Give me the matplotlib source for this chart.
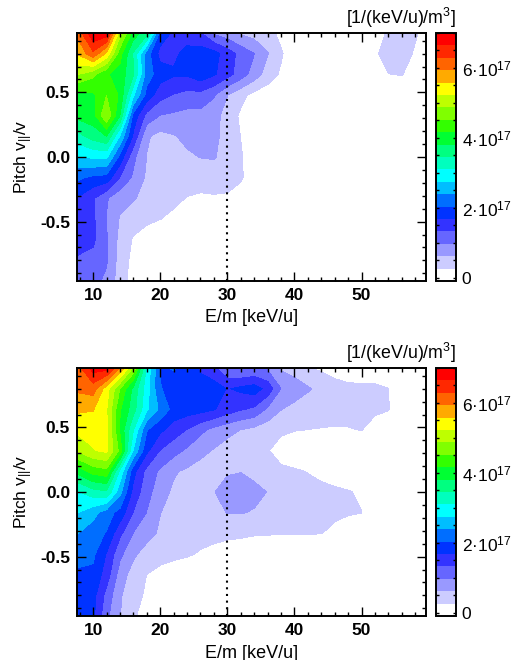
"""Pitch/energy distributions, two panels with a shared level scale."""
import numpy as np
import matplotlib
matplotlib.use("Agg")
import matplotlib.pyplot as plt
from matplotlib.ticker import FixedLocator, MultipleLocator

plt.rcParams["font.family"] = ["Liberation Sans", "DejaVu Sans"]
plt.rcParams["mathtext.fontset"] = "custom"
plt.rcParams["mathtext.rm"] = "Liberation Sans"
plt.rcParams["mathtext.default"] = "rm"

energy = [7.6, 10, 12, 14, 16, 18, 20, 22, 24, 26, 28, 30, 32, 34, 36, 38, 40, 42, 44, 46, 48, 50, 52, 54, 56, 58, 60]
pitch = [0.96, 0.8, 0.64, 0.48, 0.32, 0.16, 0.0, -0.16, -0.32, -0.48, -0.64, -0.8, -0.96]

# values in units of 1e17, one row per pitch
f_top = [
    [6.0, 6.95, 6.9, 5.0, 4.0, 3.6, 1.9, 1.6, 1.5, 1.35, 0.9, 0.75, 0.55, 0.45, 0.4, 0.15, 0.05, 0, 0, 0, 0, 0, 0.1, 0.3, 0.4, 0.3, 0.1],
    [5.6, 6.2, 5.5, 4.3, 3.4, 2.2, 1.55, 1.6, 1.78, 1.85, 1.8, 1.5, 1.2, 0.97, 0.63, 0.3, 0, 0, 0, 0, 0, 0, 0.2, 0.4, 0.45, 0.2, 0],
    [4.9, 4.6, 4.2, 4.0, 3.5, 2.2, 1.85, 1.72, 1.72, 1.9, 1.72, 1.45, 1.15, 0.8, 0.45, 0.2, 0, 0, 0, 0, 0, 0, 0.1, 0.25, 0.27, 0.1, 0],
    [4.0, 4.1, 4.5, 4.1, 2.8, 1.9, 1.45, 1.3, 1.2, 1.2, 1.0, 0.62, 0.35, 0.15, 0.05, 0, 0, 0, 0, 0, 0, 0, 0, 0, 0, 0, 0],
    [3.9, 4.0, 4.85, 3.8, 1.9, 1.2, 0.95, 0.9, 0.85, 0.85, 0.75, 0.45, 0.2, 0.05, 0, 0, 0, 0, 0, 0, 0, 0, 0, 0, 0, 0, 0],
    [3.3, 3.6, 3.8, 2.7, 1.6, 0.65, 0.5, 0.58, 0.7, 0.72, 0.72, 0.45, 0.25, 0.1, 0, 0, 0, 0, 0, 0, 0, 0, 0, 0, 0, 0, 0],
    [2.7, 2.8, 2.8, 1.9, 1.05, 0.6, 0.45, 0.45, 0.55, 0.62, 0.64, 0.45, 0.28, 0.1, 0, 0, 0, 0, 0, 0, 0, 0, 0, 0, 0, 0, 0],
    [2.1, 1.95, 1.9, 1.3, 0.9, 0.55, 0.4, 0.4, 0.4, 0.4, 0.4, 0.4, 0.3, 0.05, 0, 0, 0, 0, 0, 0, 0, 0, 0, 0, 0, 0, 0],
    [1.65, 1.35, 1.0, 0.72, 0.65, 0.45, 0.38, 0.33, 0.24, 0.2, 0.22, 0.2, 0.1, 0, 0, 0, 0, 0, 0, 0, 0, 0, 0, 0, 0, 0, 0],
    [1.5, 1.38, 0.95, 0.58, 0.4, 0.32, 0.26, 0.18, 0.1, 0.05, 0, 0, 0, 0, 0, 0, 0, 0, 0, 0, 0, 0, 0, 0, 0, 0, 0],
    [1.55, 1.38, 1.0, 0.5, 0.22, 0.1, 0, 0, 0, 0, 0, 0, 0, 0, 0, 0, 0, 0, 0, 0, 0, 0, 0, 0, 0, 0, 0],
    [1.25, 1.22, 1.0, 0.45, 0.15, 0, 0, 0, 0, 0, 0, 0, 0, 0, 0, 0, 0, 0, 0, 0, 0, 0, 0, 0, 0, 0, 0],
    [1.0, 1.05, 0.9, 0.42, 0.1, 0, 0, 0, 0, 0, 0, 0, 0, 0, 0, 0, 0, 0, 0, 0, 0, 0, 0, 0, 0, 0, 0],
]
f_bottom = [
    [6.1, 6.8, 6.8, 5.9, 4.8, 3.0, 2.0, 2.05, 1.95, 1.6, 1.4, 1.0, 0.9, 0.95, 0.9, 0.55, 0.45, 0.28, 0.2, 0.1, 0, 0, 0, 0, 0, 0, 0],
    [6.0, 6.1, 5.4, 4.5, 3.7, 2.9, 2.05, 1.9, 1.9, 1.9, 1.85, 1.65, 1.75, 1.85, 1.55, 0.96, 0.8, 0.65, 0.5, 0.4, 0.36, 0.34, 0.33, 0.26, 0.05, 0, 0],
    [5.65, 5.6, 5.25, 4.2, 3.6, 2.8, 2.3, 1.9, 1.85, 1.8, 1.7, 1.5, 1.35, 1.25, 0.9, 0.62, 0.5, 0.42, 0.38, 0.36, 0.34, 0.32, 0.3, 0.27, 0, 0, 0],
    [5.3, 5.35, 5.3, 4.1, 3.1, 2.05, 1.75, 1.5, 1.3, 1.05, 0.85, 0.72, 0.6, 0.5, 0.4, 0.32, 0.27, 0.25, 0.24, 0.23, 0.24, 0.26, 0.15, 0.05, 0, 0, 0],
    [4.9, 5.2, 5.3, 4.4, 2.7, 1.75, 1.3, 1.1, 0.9, 0.72, 0.58, 0.45, 0.4, 0.35, 0.28, 0.1, 0, 0, 0, 0, 0, 0, 0, 0, 0, 0, 0],
    [3.9, 4.3, 4.4, 3.0, 1.8, 1.2, 0.9, 0.65, 0.55, 0.45, 0.45, 0.58, 0.6, 0.5, 0.4, 0.33, 0.3, 0.24, 0.15, 0.05, 0, 0, 0, 0, 0, 0, 0],
    [3.05, 3.3, 3.4, 2.5, 1.55, 1.1, 0.75, 0.55, 0.45, 0.42, 0.6, 0.72, 0.75, 0.72, 0.6, 0.45, 0.4, 0.38, 0.36, 0.33, 0.28, 0.2, 0.05, 0, 0, 0, 0],
    [2.75, 2.5, 2.2, 1.9, 1.3, 0.95, 0.62, 0.45, 0.42, 0.42, 0.5, 0.62, 0.63, 0.58, 0.42, 0.35, 0.33, 0.32, 0.32, 0.3, 0.28, 0.26, 0.05, 0, 0, 0, 0],
    [2.4, 2.2, 2.0, 1.4, 0.95, 0.75, 0.55, 0.45, 0.42, 0.38, 0.36, 0.33, 0.31, 0.29, 0.28, 0.27, 0.27, 0.27, 0.26, 0.2, 0.1, 0.05, 0, 0, 0, 0, 0],
    [2.3, 2.1, 1.65, 1.05, 0.68, 0.45, 0.38, 0.35, 0.3, 0.22, 0.15, 0.1, 0.08, 0, 0, 0, 0, 0, 0, 0, 0, 0, 0, 0, 0, 0, 0],
    [1.9, 1.95, 1.5, 0.8, 0.45, 0.25, 0.15, 0.05, 0, 0, 0, 0, 0, 0, 0, 0, 0, 0, 0, 0, 0, 0, 0, 0, 0, 0, 0],
    [1.85, 1.8, 1.2, 0.65, 0.38, 0.2, 0.05, 0, 0, 0, 0, 0, 0, 0, 0, 0, 0, 0, 0, 0, 0, 0, 0, 0, 0, 0, 0],
    [1.8, 1.75, 1.05, 0.62, 0.3, 0.1, 0, 0, 0, 0, 0.2, 0, 0, 0, 0, 0, 0, 0, 0, 0, 0, 0, 0, 0, 0, 0, 0],
]

band_colors = [
    "#ffffff", "#ccccff", "#9999ff", "#6666ff", "#3333ff",
    "#0033ff", "#006eff", "#00beff", "#00ffff", "#00ffbe",
    "#00ff80", "#00ff33", "#33ff00", "#80ff00", "#beff00",
    "#ffff00", "#ffaa00", "#ff6400", "#ff2800", "#ff0000",
]
levels = np.linspace(-0.1, 7.0, 21)
cbar_ticks = [0, 2, 4, 6]
cbar_ticklabels = ["0", r"2·10$^{17}$", r"4·10$^{17}$", r"6·10$^{17}$"]

W, H = 520, 660


def px_axes(fig, left, top, right, bottom):
    return fig.add_axes([left / W, 1 - bottom / H, (right - left) / W, (bottom - top) / H])


def panel(fig, f, top, bottom):
    ax = px_axes(fig, 77, top, 426, bottom)
    cf = ax.contourf(energy, pitch, np.array(f), levels=levels, colors=band_colors)
    ax.axvline(30, color="black", ls=(0, (1, 2.2)), lw=1.5)
    ax.set_xlim(7.6, 59.6)
    ax.set_ylim(-0.96, 0.96)
    ax.set_xticks([10, 20, 30, 40, 50])
    ax.set_yticks([-0.5, 0.0, 0.5])
    ax.set_yticklabels(["-0.5", "0.0", "0.5"])
    ax.xaxis.set_minor_locator(MultipleLocator(2))
    ax.yaxis.set_minor_locator(MultipleLocator(0.1))
    ax.tick_params(which="both", direction="in", top=True, right=True, width=1.0)
    ax.tick_params(which="major", length=6.5, labelsize=12.5, pad=5)
    ax.tick_params(which="minor", length=3)
    for lab in ax.get_xticklabels() + ax.get_yticklabels():
        lab.set_fontweight("bold")
    for sp in ax.spines.values():
        sp.set_linewidth(1.4)
    ax.set_axisbelow(False)

    cax = px_axes(fig, 436, top, 456, bottom)
    cb = fig.colorbar(cf, cax=cax)
    cb.outline.set_linewidth(1.4)
    cb.set_ticks(cbar_ticks)
    cb.set_ticklabels(cbar_ticklabels)
    cax.yaxis.set_minor_locator(FixedLocator(np.arange(0, 7.01, 0.5)))
    cax.tick_params(which="both", direction="in", left=True, right=True, width=1.0, length=2.5)
    cax.tick_params(which="major", labelsize=12.5, pad=4)

    mid = (top + bottom) / 2
    fig.text(24 / W, 1 - mid / H, r"Pitch v$_{||}$/v", rotation=90, fontsize=12.5,
             ha="center", va="center")
    fig.text(252 / W, 1 - (bottom + 37) / H, "E/m [keV/u]", fontsize=13, ha="center", va="center")
    fig.text(456 / W, 1 - (top - 15) / H, r"[1/(keV/u)/m$^3$]", fontsize=12.8, ha="right", va="center")


def main():
    fig = plt.figure(figsize=(W / 100, H / 100), dpi=100)
    panel(fig, f_top, 33, 281)
    panel(fig, f_bottom, 368, 616)
    fig.savefig("out.png", dpi=100)


if __name__ == "__main__":
    main()
